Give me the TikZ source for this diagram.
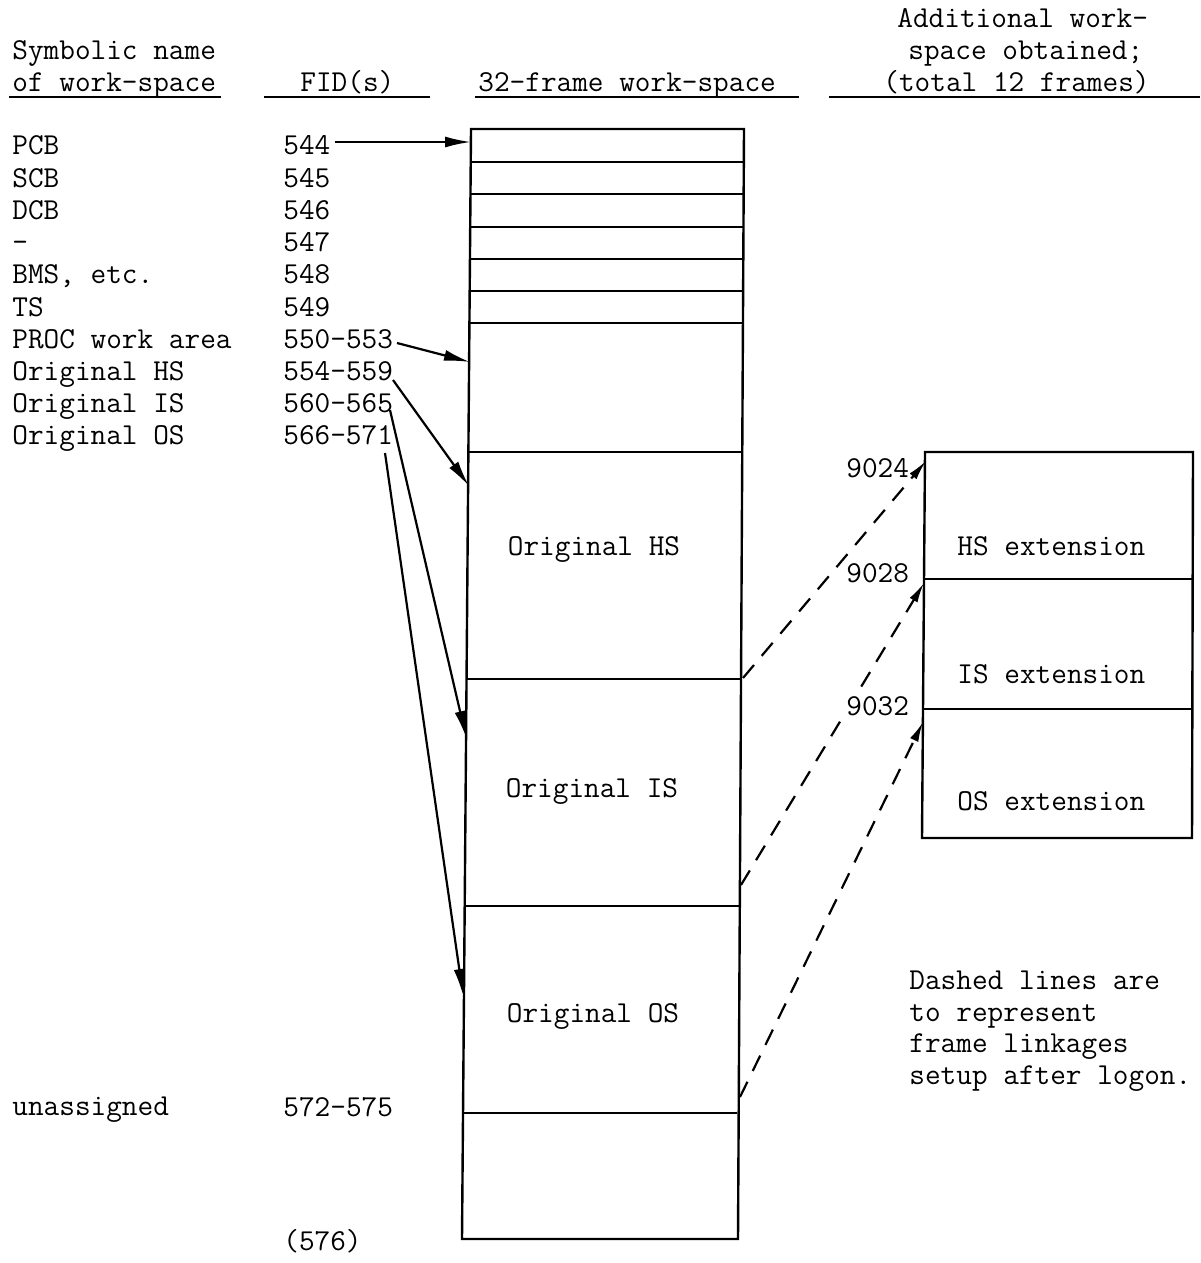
\documentclass[tikz,border=0pt]{standalone}
\usepackage{fontspec}
\usetikzlibrary{arrows.meta}
\begin{document}
\begin{tikzpicture}[x=0.5pt,y=-0.5pt,
  txt/.style={font=\ttfamily\fontsize{15.2pt}{18pt}\selectfont, inner sep=0pt, anchor=base west},
  ctxt/.style={txt, anchor=base},
  lbl/.style={txt, fill=white, inner sep=0.5pt},
  frameline/.style={line width=1.2pt},
  uline/.style={line width=1pt},
  arr/.style={line width=1.1pt, -{Latex[length=13pt,width=5.5pt]}},
  darr/.style={line width=1.1pt, dash pattern=on 8.5pt off 6pt, -{Latex[length=10pt,width=4.5pt]}}]
\useasboundingbox (0,0) rectangle (1200,1263);

% ---------- headers ----------
\node[txt] (h1) at (12,60) {Symbolic name};
\node[txt] (h2) at (12,92) {of work-space};
\node[txt] (h3) at (300,92) {FID(s)};
\node[txt] (h4) at (478,92) {32-frame work-space};
\node[txt] (h5) at (897,28) {Additional work-};
\node[txt] (h6) at (908,60) {space obtained;};
\node[txt] (h7) at (883,92) {(total 12 frames)};
\draw[uline] (9,97) -- (221,97);
\draw[uline] (264,97) -- (430,97);
\draw[uline] (475,97) -- (799,97);
\draw[uline] (829,97) -- (1200,97);

% ---------- left table ----------
\node[txt] (n0) at (12,155)   {PCB};
\node[txt] (n1) at (12,187.2) {SCB};
\node[txt] (n2) at (12,219.4) {DCB};
\node[txt] (n3) at (12,251.6) {-};
\node[txt] (n4) at (12,283.8) {BMS, etc.};
\node[txt] (n5) at (12,316)   {TS};
\node[txt] (n6) at (12,348.2) {PROC work area};
\node[txt] (n7) at (12,380.4) {Original HS};
\node[txt] (n8) at (12,412.6) {Original IS};
\node[txt] (n9) at (12,444.8) {Original OS};
\node[txt] (f0) at (283,155)   {544};
\node[txt] (f1) at (283,187.2) {545};
\node[txt] (f2) at (283,219.4) {546};
\node[txt] (f3) at (283,251.6) {547};
\node[txt] (f4) at (283,283.8) {548};
\node[txt] (f5) at (283,316)   {549};
\node[txt] (f6) at (283,348.2) {550-553};
\node[txt] (f7) at (283,380.4) {554-559};
\node[txt] (f8) at (283,412.6) {560-565};
\node[txt] (f9) at (283,444.8) {566-571};
\node[txt] (nu) at (12,1115)  {unassigned};
\node[txt] (fu) at (283,1116) {572-575};
\node[txt] (fe) at (283,1250) {(576)};

% ---------- 32-frame work-space ----------
\coordinate (TL) at (471,129);
\coordinate (TR) at (744,129);
\coordinate (BL) at (462,1239);
\coordinate (BR) at (738,1239);
\draw[frameline] (TL) -- (TR) -- (BR) -- (BL) -- cycle;
\draw[frameline] (470.7,162) -- (743.8,162);
\draw[frameline] (470.5,194) -- (743.6,194);
\draw[frameline] (470.2,227) -- (743.5,227);
\draw[frameline] (469.9,259) -- (743.3,259);
\draw[frameline] (469.7,291) -- (743.1,291);
\draw[frameline] (469.4,323) -- (743.0,323);
\draw[frameline] (468.4,452) -- (742.3,452);
\draw[frameline] (466.5,679) -- (741.0,679);
\draw[frameline] (464.7,906) -- (739.8,906);
\draw[frameline] (463.0,1113) -- (737.0,1113);
\node[ctxt] (ohs) at (594,555)  {Original HS};
\node[ctxt] (ois) at (592,797)  {Original IS};
\node[ctxt] (oos) at (593,1022) {Original OS};

% ---------- additional work-space ----------
\coordinate (ETL) at (925,452);
\coordinate (ETR) at (1193,452);
\coordinate (EBR) at (1192,838);
\coordinate (EBL) at (922,838);
\draw[frameline] (ETL) -- (ETR) -- (EBR) -- (EBL) -- cycle;
\draw[frameline] (924,579) -- (1193,579);
\draw[frameline] (923.5,709) -- (1192.5,709);
\node[txt] (ehs) at (957,555) {HS extension};
\node[txt] (eis) at (957,683) {IS extension};
\node[txt] (eos) at (957,810) {OS extension};

% ---------- note ----------
\node[txt] (note1) at (909,989)  {Dashed lines are};
\node[txt] (note2) at (909,1021) {to represent};
\node[txt] (note3) at (909,1052) {frame linkages};
\node[txt] (note4) at (909,1084) {setup after logon.};

% ---------- solid arrows ----------
\coordinate (s0) at (335,142);  \coordinate (t0) at (471,142);
\coordinate (s6) at (397,343);  \coordinate (t6) at (470,362);
\coordinate (s7) at (393,380);  \coordinate (t7) at (469,486);
\coordinate (s8) at (390,410);  \coordinate (t8) at (466,737);
\coordinate (s9) at (385,453);  \coordinate (t9) at (463,995);
\draw[arr] (s0) -- (t0);
\draw[arr] (s6) -- (t6);
\draw[arr] (s7) -- (t7);
\draw[arr] (s8) -- (t8);
\draw[arr] (s9) -- (t9);

% ---------- dashed linkages ----------
\coordinate (d1s) at (743,678);  \coordinate (d1t) at (926,461);
\coordinate (d2s) at (741,885);  \coordinate (d2t) at (924,583);
\coordinate (d3s) at (740,1097); \coordinate (d3t) at (923,722);
\draw[darr] (d1s) -- (d1t);
\draw[darr] (d2s) -- (d2t);
\draw[darr] (d3s) -- (d3t);

% ---------- frame numbers ----------
\node[lbl] (l24) at (845,477) {9024};
\node[lbl] (l28) at (845,582) {9028};
\node[lbl] (l32) at (845,715) {9032};
\end{tikzpicture}
\end{document}
